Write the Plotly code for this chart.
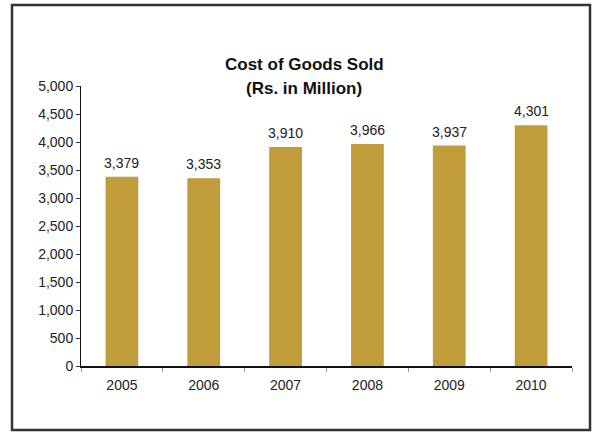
import plotly.graph_objects as go

# Cost of goods sold by year (Rs. in Million)
years = ["2005", "2006", "2007", "2008", "2009", "2010"]
cost = [3379, 3353, 3910, 3966, 3937, 4301]

y_ticks = list(range(0, 5001, 500))

BAR_COLOR = "#C09C3A"
TEXT_COLOR = "#222222"
FONT = "Liberation Sans, Arial, sans-serif"

W, H = 598, 432
L, R, T, B = 81, 26, 86, 66
PW, PH = W - L - R, H - T - B


def px_x(x):
    return (x - L) / PW


def px_y(y):
    return (H - B - y) / PH


fig = go.Figure(
    go.Bar(
        x=years,
        y=cost,
        marker=dict(color=BAR_COLOR, line=dict(width=0)),
        hoverinfo="x+y",
    )
)

# value labels above each bar (category index positions on the x axis)
value_labels = [
    dict(
        x=i,
        y=v,
        xref="x",
        yref="y",
        text=f"{v:,}",
        showarrow=False,
        yanchor="middle",
        yshift=14,
        font=dict(size=14, color=TEXT_COLOR),
    )
    for i, v in enumerate(cost)
]

title_lines = [
    dict(
        text=f"<b>{line}</b>",
        xref="paper",
        yref="paper",
        x=px_x(304),
        y=px_y(yc),
        showarrow=False,
        font=dict(size=17, color="#111111"),
        xanchor="center",
        yanchor="middle",
    )
    for line, yc in [("Cost of Goods Sold", 64.5), ("(Rs. in Million)", 89)]
]

fig.update_layout(
    width=W,
    height=H,
    margin=dict(l=L, r=R, t=T, b=B),
    paper_bgcolor="white",
    plot_bgcolor="white",
    bargap=0.6,
    showlegend=False,
    font=dict(family=FONT, size=14, color=TEXT_COLOR),
    xaxis=dict(
        type="category",
        range=[-0.5, len(years) - 0.5],
        showline=True,
        linecolor="#111111",
        linewidth=1.5,
        ticks="outside",
        tickson="boundaries",
        ticklen=4,
        tickcolor="#999999",
        tickfont=dict(size=14, color=TEXT_COLOR),
        ticklabelstandoff=5,
        tickangle=0,
        showgrid=False,
        zeroline=False,
    ),
    yaxis=dict(
        range=[0, 5000],
        tickvals=y_ticks,
        tickformat=",",
        showline=True,
        linecolor="#111111",
        linewidth=1,
        ticks="outside",
        ticklen=4,
        tickcolor="#333333",
        tickfont=dict(size=14, color=TEXT_COLOR),
        showgrid=False,
        zeroline=False,
    ),
    shapes=[
        dict(
            type="rect",
            xref="paper",
            yref="paper",
            x0=px_x(12),
            x1=px_x(590),
            y0=px_y(430),
            y1=px_y(5),
            line=dict(color="#333333", width=2.5),
            fillcolor="rgba(0,0,0,0)",
            layer="below",
        )
    ],
    annotations=value_labels + title_lines,
)

fig.write_html("out.html")
